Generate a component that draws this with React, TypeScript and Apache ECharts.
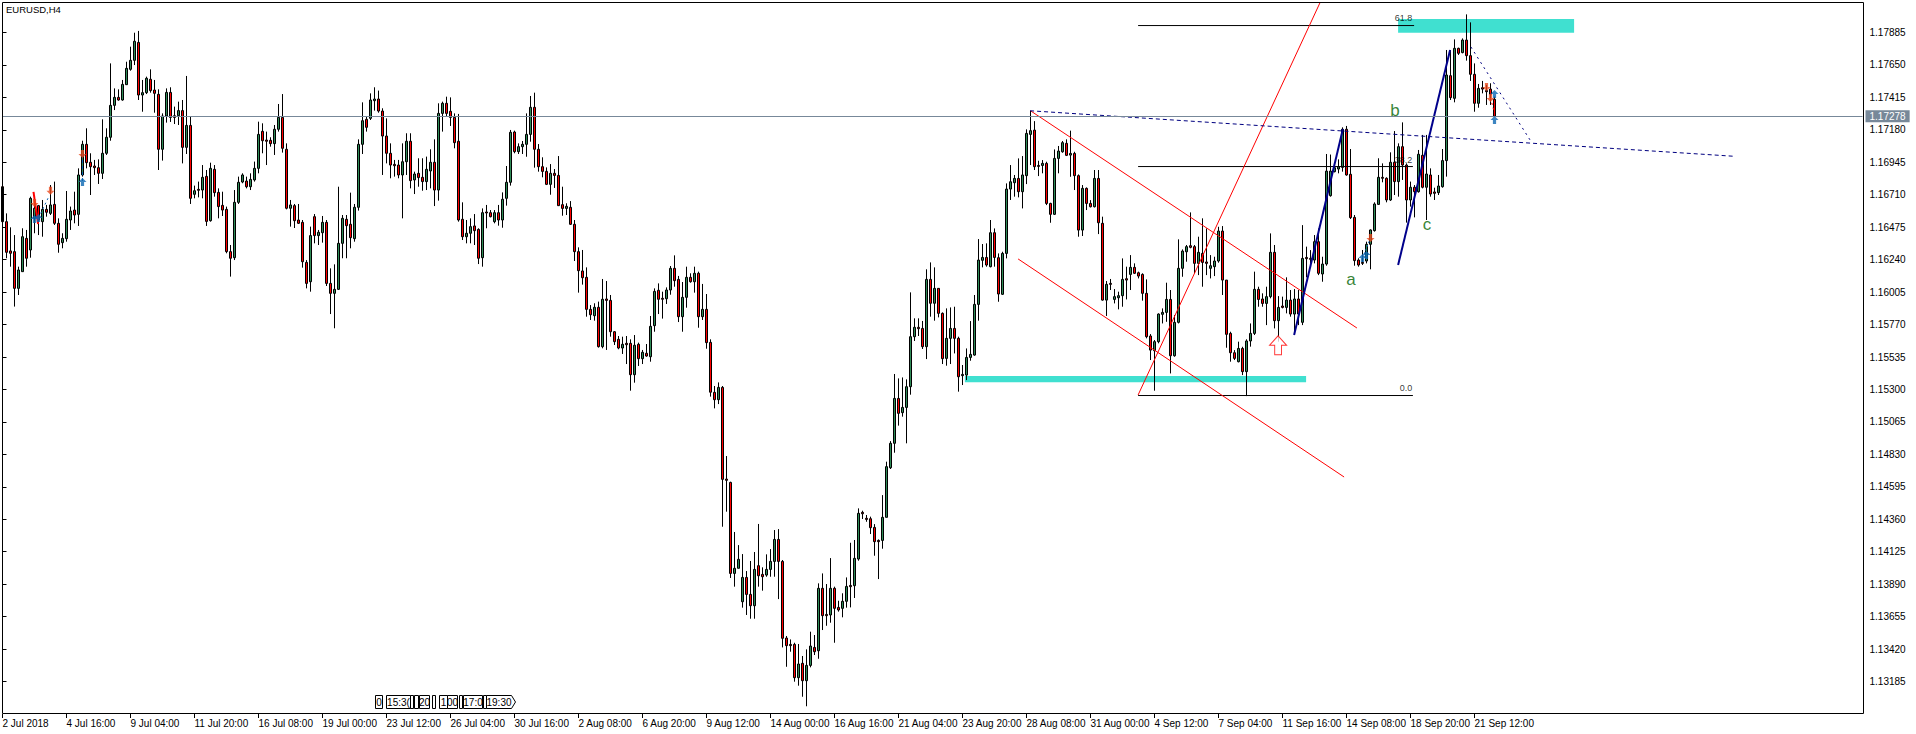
import React, { useEffect, useRef } from "react";
import * as echarts from "echarts";

// Prices in points (price x 100000), one entry per H4 bar.
const opens = [
116768,116515,116303,116298,116032,116153,116394,116310,116539,116631,
116515,116604,116575,116640,116503,116363,116392,116527,116599,116568,
116853,117075,116945,116918,116906,116865,117010,117126,117357,117415,
117396,117507,117618,117683,117813,117432,117449,117546,117468,117437,
117039,117280,117451,117282,117282,117319,117053,117212,116713,116749,
116744,116843,116522,116894,116727,116633,116604,116298,116254,116655,
116802,116809,116768,116817,116901,117169,117106,117104,117080,117184,
117270,117039,116612,116631,116527,116510,116220,116080,116551,116414,
116435,116510,116068,115996,116025,116358,116532,116496,116392,116619,
117075,117256,117263,117391,117403,117316,117135,117010,116930,116925,
116853,116949,117097,116817,116865,116836,116805,116882,116945,116744,
117299,117372,117314,117270,117097,116532,116406,116431,116484,116459,
116254,116585,116580,116515,116580,116527,116684,116800,117164,117022,
117058,117075,117147,117343,117039,116913,116879,116785,116865,116850,
116638,116611,116619,116496,116298,116158,116112,115880,115834,115895,
115610,115955,115945,115718,115663,115600,115634,115634,115407,115627,
115523,115562,115537,115762,116018,115960,115957,116020,116177,116097,
115827,115967,116112,116080,116141,115827,115880,115641,115279,115226,
115315,114651,114627,113968,114005,113763,113939,113816,113734,114024,
113961,113956,113997,114055,114214,114055,113500,113454,113454,113213,
113317,113191,113302,113432,113408,113860,113671,113667,113860,113722,
113715,113766,113881,113879,114072,114410,114367,114364,114301,114207,
114207,114374,114733,114910,115235,115132,115170,115320,115682,115750,
115742,115610,116097,115924,116032,115851,115525,115670,115742,115670,
115400,115404,115532,115549,115916,116235,116256,116189,116435,116254,
115989,116285,116751,116797,116828,116732,116848,117147,117178,116922,
116922,116937,116647,116568,116973,117021,117082,116997,117009,116848,
116454,116756,116647,116623,116828,116503,115947,116068,115952,115964,
115979,116102,116133,116184,116145,116133,115996,115687,115581,115646,
115844,115858,115952,115544,115786,116177,116297,116341,116334,116213,
116285,116223,116177,116189,116230,116447,116092,115706,115566,115501,
115597,115429,115651,115706,116025,115955,115923,115972,116293,115798,
115904,115894,115947,115846,115955,115786,116256,116249,116237,116370,
116136,116208,116703,116877,116896,116908,117184,116858,116546,116237,
116220,116230,116351,116450,116640,116836,116829,116672,116945,116805,
117058,116925,116672,116764,116732,116995,116764,116853,116730,116725,
116768,116957,117572,117408,117770,117739,117830,117717,117582,117372,
117485,117464,117475,117401,
];

const highs = [
116768,116575,116474,116418,116189,116467,116455,116696,116672,116636,
116672,116636,116780,116805,116539,116431,116737,116624,116732,116901,
117101,117191,117010,116962,116966,117256,117191,117661,117480,117473,
117541,117673,117782,117883,117896,117541,117565,117618,117541,117473,
117299,117480,117488,117348,117384,117396,117570,117275,116776,116805,
116925,116889,116942,116925,116756,116732,116624,116346,116744,116841,
116865,116841,116865,116950,117239,117227,117167,117126,117215,117367,
117439,117082,116672,116643,116643,116527,116237,116479,116570,116455,
116556,116527,116177,116206,116768,116563,116563,116725,116643,117111,
117379,117275,117444,117488,117464,117336,117263,117082,116962,116962,
117082,117155,117155,116877,116974,116974,116986,117039,117111,117372,
117384,117420,117415,117299,117295,116655,116527,116539,116570,116467,
116611,116636,116599,116599,116636,116727,116918,117179,117174,117082,
117099,117299,117425,117449,117077,116981,116908,116932,116896,116990,
116768,116648,116664,116527,116329,116310,116184,115911,115924,115936,
116100,116085,115984,115723,115687,115682,115687,115663,115694,115639,
115586,115629,115832,116032,116068,116008,116039,116194,116271,116122,
116078,116189,116141,116189,116153,116064,115991,115663,115325,115351,
115325,114818,114632,114268,114173,114108,113985,114058,114123,114326,
114012,114106,114144,114282,114289,114065,113515,113490,113466,113457,
113370,113418,113546,113522,113896,113968,113891,114079,113872,113770,
113824,113939,114190,114210,114439,114422,114391,114379,114325,114214,
114535,114777,114926,115412,115380,115387,115373,116003,115815,115815,
115796,116170,116220,116184,116032,115858,115887,115894,115899,115682,
115477,115597,115795,115984,116389,116353,116358,116527,116466,116285,
116297,116792,116925,116853,116973,116990,117183,117318,117243,116956,
116961,116949,116652,117038,117063,117099,117111,117174,117021,116857,
116780,116763,116671,116889,116889,116551,116085,116100,116027,116008,
116249,116189,116273,116213,116153,116141,116097,115701,115658,115851,
115887,116073,116020,115839,116387,116314,116346,116582,116346,116406,
116539,116466,116273,116261,116478,116483,116092,115718,115585,115646,
115609,115663,115778,116153,116044,115996,116044,116430,116346,115976,
115972,116112,116020,116027,116020,116490,116334,116309,116418,116466,
116261,117005,117001,116937,116966,117198,117208,117041,116563,116250,
116310,116370,116459,116655,116974,116937,116836,117017,117171,117082,
117234,116937,116805,116780,117034,117143,117143,116901,116761,116853,
117041,117758,117758,117835,117775,117842,118016,117958,117661,117512,
117534,117505,117517,117420,
];

const lows = [
116515,116250,116189,115900,115984,116153,116189,116254,116431,116418,
116406,116551,116563,116491,116290,116322,116370,116455,116503,116484,
116841,116901,116708,116853,116788,116824,116998,117101,117323,117391,
117391,117505,117608,117649,117396,117311,117439,117449,117304,116889,
116957,117232,117237,117222,117215,116937,117005,116643,116684,116691,
116684,116484,116515,116696,116539,116556,116286,116117,116237,116643,
116793,116756,116744,116805,116865,117010,116925,117058,116998,117167,
117015,116604,116479,116469,116498,116182,116032,116008,116358,116346,
116363,116049,115846,115743,116020,116250,116250,116322,116370,116595,
117005,117167,117251,117319,117304,116853,116937,116829,116841,116829,
116539,116853,116756,116715,116768,116739,116744,116756,116628,116667,
117167,117275,117208,117046,116515,116382,116358,116358,116346,116208,
116189,116467,116546,116503,116486,116471,116631,116776,117010,117005,
117005,116985,117094,116906,116877,116836,116780,116710,116759,116628,
116558,116563,116491,116230,116001,116059,115827,115803,115798,115603,
115598,115586,115682,115622,115591,115557,115484,115291,115349,115470,
115484,115537,115501,115718,115846,115813,115919,115986,116044,115788,
115718,115892,116073,116001,115747,115803,115595,115248,115163,115194,
114306,114415,113935,113872,114005,113720,113667,113640,113640,113872,
113843,113944,113944,113944,113782,113432,113292,113401,113184,113155,
113075,113006,113288,113377,113350,113558,113589,113611,113466,113691,
113650,113720,113722,113790,114060,114362,114342,114253,114096,113927,
114147,114374,114724,114842,115038,115103,114910,115262,115651,115687,
115593,115520,115827,115798,115822,115484,115472,115484,115561,115284,
115332,115368,115508,115544,115798,116184,116189,116184,116189,115935,
115984,116249,116672,116696,116691,116611,116787,116925,116889,116845,
116865,116635,116507,116563,116865,117014,116990,116840,116744,116406,
116411,116599,116618,116618,116425,115943,115832,116020,115923,115880,
115899,115952,116020,116136,116104,115943,115670,115513,115291,115634,
115778,115790,115416,115537,115778,116116,116225,116322,116141,116128,
116044,116128,116104,116121,116218,115984,115602,115501,115513,115496,
115404,115252,115610,115694,115899,115899,115766,115960,115742,115646,
115887,115851,115827,115694,115766,115766,116112,116213,116213,116128,
116080,116196,116696,116872,116865,116877,116848,116534,116196,116189,
116201,116213,116170,116443,116636,116800,116655,116665,116708,116696,
116817,116508,116624,116546,116725,116756,116527,116696,116672,116708,
116761,116841,117396,117379,117722,117734,117681,117534,117311,117340,
117444,117360,117360,117278,
];

const closes = [
116515,116293,116286,116032,116165,116406,116250,116684,116612,116527,
116604,116583,116636,116503,116351,116394,116532,116592,116563,116853,
117075,116942,116913,116906,116865,117010,117126,117357,117415,117396,
117509,117625,117683,117821,117432,117449,117553,117464,117444,117039,
117280,117451,117270,117270,117319,117053,117212,116684,116739,116742,
116836,116517,116901,116725,116624,116599,116298,116250,116655,116800,
116853,116768,116821,116901,117147,117101,117097,117080,117184,117270,
117046,116612,116636,116522,116503,116225,116068,116414,116414,116438,
116510,116068,115996,116025,116358,116539,116486,116399,116619,117075,
117246,117198,117396,117403,117316,117135,117010,116925,116920,116853,
116949,117097,116812,116860,116834,116805,116894,116945,116744,117299,
117372,117299,117270,117087,116527,116406,116431,116479,116450,116250,
116580,116578,116551,116580,116527,116677,116800,117162,117022,117058,
117075,117147,117343,117039,116913,116879,116785,116865,116850,116631,
116611,116626,116496,116298,116160,116109,115880,115841,115895,115610,
115953,115945,115718,115646,115600,115627,115624,115407,115620,115523,
115569,115542,115757,116010,115953,115953,116020,116177,116088,115827,
115967,116112,116080,116141,115827,115880,115639,115280,115226,115315,
114649,114642,113968,114005,114070,113939,113816,113734,113997,113951,
113944,113997,114055,114214,114055,113498,113445,113445,113213,113312,
113191,113302,113442,113401,113860,113662,113662,113860,113715,113703,
113766,113874,113872,114077,114403,114400,114359,114299,114198,114198,
114374,114741,114910,115235,115127,115170,115320,115682,115750,115740,
115610,116097,115924,116032,115851,115523,115670,115742,115670,115392,
115409,115532,115554,115916,116237,116256,116201,116435,116256,115991,
116285,116751,116804,116828,116732,116853,117154,117174,116913,116915,
116937,116647,116568,116973,117026,117087,116995,117009,116848,116454,
116756,116647,116623,116828,116507,115947,116061,116061,115972,115979,
116097,116092,116184,116141,116121,115996,115682,115585,115646,115846,
115858,115952,115544,115786,116177,116302,116334,116329,116213,116293,
116220,116213,116196,116230,116447,116092,115699,115566,115525,115597,
115429,115651,115706,116025,115952,115923,115972,116293,115798,115894,
115894,115947,115846,115955,115846,116249,116247,116242,116370,116141,
116208,116881,116881,116906,116913,117184,116853,116544,116233,116201,
116213,116351,116455,116643,116836,116829,116672,116945,116805,117058,
116925,116672,116764,116732,117003,116764,116860,116715,116720,116773,
116957,117577,117413,117770,117734,117830,117717,117582,117372,117480,
117475,117456,117437,117278,
];

const xTickLabels = [
  "2 Jul 2018","4 Jul 16:00","9 Jul 04:00","11 Jul 20:00","16 Jul 08:00","19 Jul 00:00",
  "23 Jul 12:00","26 Jul 04:00","30 Jul 16:00","2 Aug 08:00","6 Aug 20:00","9 Aug 12:00",
  "14 Aug 00:00","16 Aug 16:00","21 Aug 04:00","23 Aug 20:00","28 Aug 08:00","31 Aug 00:00",
  "4 Sep 12:00","7 Sep 04:00","11 Sep 16:00","14 Sep 08:00","18 Sep 20:00","21 Sep 12:00",
];
const yTickValues = [
  1.13185,1.1342,1.13655,1.1389,1.14125,1.1436,1.14595,1.1483,1.15065,1.153,1.15535,
  1.1577,1.16005,1.1624,1.16475,1.1671,1.16945,1.1718,1.17415,1.1765,1.17885,
];
const BARS_PER_TICK = 16;
const SLOTS = 466;
const lastPrice = 1.17278;

// Overlay objects as [bar index, points].
const fibLow = [[283.9,115256],[352.6,115256]];
const fibMid = [[283.9,116914],[352.6,116914]];
const fibHigh = [[283.9,117935],[352.9,117935]];
const channelUpper = [[257.1,117316],[338.6,115745]];
const channelLower = [[253.9,116245],[335.4,114666]];
const redRise = [[283.9,115260],[329.4,118102]];
const blueLong = [[256.9,117318],[433.1,116988]];
const blueDotted = [[367.1,117780],[381.9,117106]];
const waveOne = [[322.9,115694],[335.1,117186]];
const waveTwo = [[348.9,116201],[361.9,117758]];
const shortRed = [[7.75,116730],[8.9,116498]];
const shortRedEnd = [[372,117410],[373,117302]];
const shortBlueA = [[9,116541],[11.4,116686]];
const shortBlueB = [[20,117005],[20,116802]];
const shortBlueC = [[340,116252],[342,116397]];
const zoneLow = [[240.6,115397],[325.9,115352]];
const zoneHigh = [[348.9,117982],[392.9,117883]];
const downMarks = [[8,116650],[12,116739],[20,117005],[342,116397],[371,117490],[372,117410]];
const upMarks = [[8,116534],[9,116541],[20,116802],[341,116274],[340,116252],[373,117439],[373,117251]];
const signalArrow = [[318.9,115620]];
const fibTexts = [
  { text: "61.8", at: [350.25,117987] },
  { text: "38.2", at: [350.25,116961] },
  { text: "0.0", at: [350.9,115311] },
];
const waveTexts = [
  { text: "a", at: [337.1,116093] },
  { text: "b", at: [348.1,117318] },
  { text: "c", at: [356.1,116498] },
];

const eventBoxes = [
  { text: "0", x0: 375, x1: 382 },
  { text: "15:3(", x0: 386, x1: 410 },
  { text: "", x0: 410, x1: 413 },
  { text: "", x0: 414, x1: 418 },
  { text: "20", x0: 419, x1: 429 },
  { text: "", x0: 432, x1: 435 },
  { text: "1", x0: 439, x1: 447 },
  { text: "00", x0: 447, x1: 457 },
  { text: "", x0: 459, x1: 462 },
  { text: "17:0", x0: 463, x1: 482 },
  { text: "", x0: 483, x1: 486 },
];

const P = (v: number) => v / 100000;
const pts = (a: number[][]) => a.map(([i, v]) => [i, P(v)]);
const UI = "'Liberation Sans', Arial, sans-serif";
const NARROW = "'Liberation Sans Narrow', 'Liberation Sans', sans-serif";
const ARROW_UP = "path://M5 0 L10 5 L7 5 L7 10 L3 10 L3 5 L0 5 Z";
const ARROW_DOWN = "path://M5 10 L10 5 L7 5 L7 0 L3 0 L3 5 L0 5 Z";

const lineSeries = (data: number[][], color: string, width: number, type: any = "solid", z = 4) => ({
  type: "line",
  xAxisIndex: 1,
  yAxisIndex: 0,
  data: pts(data),
  symbol: "none",
  silent: true,
  z,
  lineStyle: { color, width, type },
});

const zoneOf = (z: number[][]) => [
  { coord: [z[0][0], P(z[0][1])] },
  { coord: [z[1][0], P(z[1][1])] },
];

export default function App() {
  const ref = useRef<HTMLDivElement>(null);
  useEffect(() => {
    const chart = echarts.init(ref.current!, undefined, { renderer: "svg" });
    const categories: string[] = Array.from({ length: SLOTS }, () => "");
    xTickLabels.forEach((l, k) => (categories[k * BARS_PER_TICK] = l));
    const hasLabel = (_: number, v: string) => v !== "";
    const candles = opens.map((o, i) => [P(o), P(closes[i]), P(lows[i]), P(highs[i])]);

    const boxGraphics: any[] = [];
    eventBoxes.forEach((b) => {
      boxGraphics.push({
        type: "rect",
        silent: true,
        z: 20,
        shape: { x: b.x0 + 0.5, y: 695.5, width: b.x1 - b.x0, height: 13 },
        style: { fill: "#fff", stroke: "#000", lineWidth: 1 },
      });
      if (b.text)
        boxGraphics.push({
          type: "text",
          silent: true,
          z: 21,
          x: (b.x0 + b.x1) / 2 + 0.5,
          y: 702,
          style: { text: b.text, fill: "#000", font: `10px ${NARROW}`, align: "center", verticalAlign: "middle" },
        });
    });
    boxGraphics.push({
      type: "polygon",
      silent: true,
      z: 20,
      shape: { points: [[486.5,695.5],[511.5,695.5],[515.5,702],[511.5,708.5],[486.5,708.5]] },
      style: { fill: "#fff", stroke: "#000", lineWidth: 1 },
    });
    boxGraphics.push({
      type: "text",
      silent: true,
      z: 21,
      x: 499,
      y: 702,
      style: { text: "19:30", fill: "#000", font: `10px ${NARROW}`, align: "center", verticalAlign: "middle" },
    });

    chart.setOption({
      animation: false,
      backgroundColor: "#fff",
      title: {
        text: "EURUSD,H4",
        left: 6,
        top: 4,
        padding: 0,
        textStyle: { fontFamily: UI, fontSize: 9.5, fontWeight: "normal", color: "#000" },
      },
      grid: { left: 2.5, top: 0, width: 1860, height: 714, show: false, outerBoundsMode: "none" },
      xAxis: [
        {
          type: "category",
          data: categories,
          boundaryGap: false,
          axisLine: { show: false },
          splitLine: { show: false },
          axisTick: { show: true, length: 4, interval: hasLabel, lineStyle: { color: "#000", width: 1 } },
          axisLabel: {
            show: true,
            interval: hasLabel,
            hideOverlap: false,
            align: "left",
            margin: 4,
            fontFamily: NARROW,
            fontSize: 10,
            color: "#000",
          },
        },
        { type: "value", min: 0, max: SLOTS - 1, show: false, splitLine: { show: false } },
      ],
      yAxis: [
        {
          type: "value",
          position: "right",
          offset: 1,
          min: 1.1295,
          max: 1.1812,
          interval: 0.00235,
          axisLine: { show: false },
          splitLine: { show: false },
          axisTick: { show: true, length: 4, customValues: yTickValues, lineStyle: { color: "#000", width: 1 } },
          axisLabel: {
            show: true,
            customValues: yTickValues,
            formatter: (v: number) => v.toFixed(5),
            margin: 6,
            fontFamily: NARROW,
            fontSize: 10,
            color: "#000",
          },
        },
      ],
      series: [
        {
          type: "line",
          xAxisIndex: 1,
          data: [],
          symbol: "none",
          silent: true,
          z: 1,
          markArea: {
            silent: true,
            itemStyle: { color: "#40e0d0", opacity: 1 },
            data: [zoneOf(zoneLow), zoneOf(zoneHigh)],
          },
        },
        {
          type: "candlestick",
          data: candles,
          barWidth: 2,
          z: 3,
          silent: true,
          itemStyle: {
            color: "#2e8b57",
            color0: "#ff0000",
            borderColor: "#000",
            borderColor0: "#000",
            borderWidth: 1,
          },
          markLine: {
            silent: true,
            symbol: "none",
            animation: false,
            precision: 5,
            lineStyle: { color: "#778899", width: 1, type: "solid" },
            data: [{ yAxis: lastPrice }],
            label: {
              show: true,
              position: "end",
              distance: 3,
              formatter: lastPrice.toFixed(5),
              fontFamily: NARROW,
              fontSize: 10,
              color: "#fff",
              backgroundColor: "#778899",
              padding: [1, 4, 1, 4],
            },
          },
        },
        lineSeries(fibLow, "#000", 1),
        lineSeries(fibMid, "#000", 1),
        lineSeries(fibHigh, "#000", 1),
        lineSeries(channelUpper, "#ff0000", 1),
        lineSeries(channelLower, "#ff0000", 1),
        lineSeries(redRise, "#ff0000", 1),
        lineSeries(blueLong, "#000080", 1, [4, 3]),
        lineSeries(blueDotted, "#000080", 1, [2, 4]),
        lineSeries(waveOne, "#00008b", 2),
        lineSeries(waveTwo, "#00008b", 2),
        lineSeries(shortRed, "#ff0000", 2),
        lineSeries(shortRedEnd, "#ff0000", 1, [2, 3]),
        lineSeries(shortBlueA, "#0b66b2", 1, [2, 3]),
        lineSeries(shortBlueB, "#0b66b2", 1, [3, 3]),
        lineSeries(shortBlueC, "#0b66b2", 1, [2, 2]),
        {
          type: "scatter",
          xAxisIndex: 1,
          data: pts(downMarks),
          symbol: ARROW_DOWN,
          symbolSize: [8, 8],
          silent: true,
          z: 6,
          itemStyle: { color: "#e8481c" },
        },
        {
          type: "scatter",
          xAxisIndex: 1,
          data: pts(upMarks),
          symbol: ARROW_UP,
          symbolSize: [8, 8],
          silent: true,
          z: 6,
          itemStyle: { color: "#0b66b2" },
        },
        {
          type: "scatter",
          xAxisIndex: 1,
          data: pts(signalArrow),
          symbol: ARROW_UP,
          symbolSize: [17, 19],
          silent: true,
          z: 6,
          itemStyle: { color: "#fff", borderColor: "#ff0000", borderWidth: 1 },
        },
        {
          type: "scatter",
          xAxisIndex: 1,
          symbolSize: 1,
          silent: true,
          z: 7,
          itemStyle: { color: "transparent" },
          data: fibTexts.map((t) => ({
            value: [t.at[0], P(t.at[1])],
            label: {
              show: true,
              position: "inside",
              formatter: t.text,
              fontFamily: UI,
              fontSize: 9,
              color: "#000",
            },
          })),
        },
        {
          type: "scatter",
          xAxisIndex: 1,
          symbolSize: 1,
          silent: true,
          z: 7,
          itemStyle: { color: "transparent" },
          data: waveTexts.map((t) => ({
            value: [t.at[0], P(t.at[1])],
            label: {
              show: true,
              position: "inside",
              formatter: t.text,
              fontFamily: UI,
              fontSize: 17,
              color: "#006400",
            },
          })),
        },
      ],
      graphic: [
        {
          type: "rect",
          silent: true,
          z: 10,
          shape: { x: 2.5, y: 2.5, width: 1861, height: 711 },
          style: { fill: "none", stroke: "#000", lineWidth: 1 },
        },
        ...boxGraphics,
      ],
    });
    return () => chart.dispose();
  }, []);
  return <div ref={ref} style={{ position: "fixed", left: 0, top: 0, width: 1916, height: 734 }} />;
}
